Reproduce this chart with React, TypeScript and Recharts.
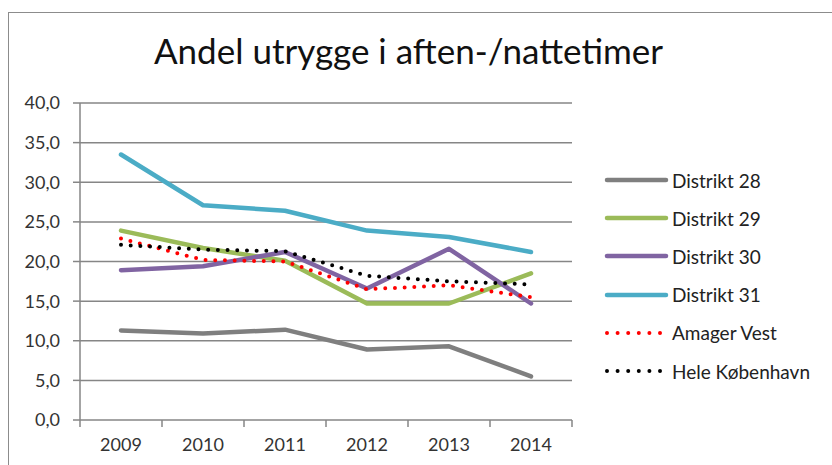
import { LineChart, Line, XAxis, YAxis, CartesianGrid } from 'recharts'

const years = ['2009', '2010', '2011', '2012', '2013', '2014']
const distrikt28 = [11.3, 10.9, 11.4, 8.9, 9.3, 5.5]
const distrikt29 = [23.9, 21.7, 20.1, 14.7, 14.7, 18.5]
const distrikt30 = [18.9, 19.4, 21.2, 16.6, 21.6, 14.7]
const distrikt31 = [33.5, 27.1, 26.4, 23.9, 23.1, 21.2]
const amagerVest = [22.9, 20.2, 20.0, 16.5, 17.0, 15.5]
const heleKbh = [22.1, 21.5, 21.3, 18.2, 17.5, 17.1]
const yTicks = [0, 5, 10, 15, 20, 25, 30, 35, 40]

const series = [
  { key: 'd28', name: 'Distrikt 28', values: distrikt28, color: '#7f7f7f', dotted: false },
  { key: 'd29', name: 'Distrikt 29', values: distrikt29, color: '#9bbb59', dotted: false },
  { key: 'd30', name: 'Distrikt 30', values: distrikt30, color: '#8064a2', dotted: false },
  { key: 'd31', name: 'Distrikt 31', values: distrikt31, color: '#4bacc6', dotted: false },
  { key: 'av', name: 'Amager Vest', values: amagerVest, color: '#ff0000', dotted: true },
  { key: 'kbh', name: 'Hele København', values: heleKbh, color: '#000000', dotted: true },
]

const data = years.map((year, i) => {
  const row: Record<string, string | number> = { year }
  series.forEach((s) => {
    row[s.key] = s.values[i]
  })
  return row
})

const font = 'Lato, "Open Sans", sans-serif'
const axisColor = '#868686'
const halfBand = 41

// year label plus tick marks on the category boundaries (Excel style)
function YearTick(props: any) {
  const { x, y, payload, index, visibleTicksCount } = props
  const last = index === visibleTicksCount - 1
  return (
    <g>
      <line x1={x - halfBand} y1={y} x2={x - halfBand} y2={y + 7} stroke={axisColor} strokeWidth={1.5} />
      {last && <line x1={x + halfBand} y1={y} x2={x + halfBand} y2={y + 7} stroke={axisColor} strokeWidth={1.5} />}
      <text x={x} y={y + 18} dy="0.71em" textAnchor="middle" fontSize={18} fill="#333" fontFamily={font}>
        {payload.value}
      </text>
    </g>
  )
}

export default function App() {
  return (
    <div style={{ position: 'absolute', left: 0, top: 0, width: 832, height: 465, background: '#fff', overflow: 'hidden', fontFamily: font }}>
      {/* chart frame, only top and left edges visible */}
      <div style={{ position: 'absolute', left: 8, top: 12, width: 900, height: 600, borderTop: '1.5px solid #8c8c8c', borderLeft: '1.5px solid #8c8c8c' }} />
      <div style={{ position: 'absolute', left: 0, top: 29, width: 817, textAlign: 'center', fontSize: 35, color: '#111' }}>
        Andel utrygge i aften-/nattetimer
      </div>
      <div style={{ position: 'absolute', left: 0, top: 0 }}>
        <LineChart width={832} height={465} data={data} margin={{ top: 103, right: 260, bottom: 0, left: 0 }}>
          <CartesianGrid vertical={false} stroke={axisColor} strokeWidth={1.5} />
          <XAxis
            dataKey="year"
            height={45}
            padding={{ left: halfBand, right: halfBand }}
            axisLine={false}
            tickLine={false}
            tickSize={0}
            tickMargin={0}
            tick={<YearTick />}
            interval={0}
          />
          <YAxis
            width={80}
            domain={[0, 40]}
            ticks={yTicks}
            tickSize={7}
            tickMargin={13}
            stroke={axisColor}
            strokeWidth={1.5}
            tick={{ fontSize: 18, fill: '#333', fontFamily: font }}
            tickFormatter={(v: number) => v.toFixed(1).replace('.', ',')}
          />
          {series.map((s) => (
            <Line
              key={s.key}
              dataKey={s.key}
              name={s.name}
              stroke={s.color}
              strokeWidth={s.dotted ? 4 : 4.5}
              strokeDasharray={s.dotted ? '0 9.7' : undefined}
              strokeLinecap="round"
              strokeLinejoin="round"
              dot={false}
              activeDot={false}
              isAnimationActive={false}
            />
          ))}
        </LineChart>
      </div>
      <div style={{ position: 'absolute', left: 604, top: 161 }}>
        {series.map((s) => (
          <div key={s.key} style={{ display: 'flex', alignItems: 'center', height: 38.2 }}>
            <svg width={66} height={10}>
              <line
                x1={3}
                y1={5}
                x2={s.dotted ? 59 : 62}
                y2={5}
                stroke={s.color}
                strokeWidth={s.dotted ? 4 : 4.5}
                strokeLinecap="round"
                strokeDasharray={s.dotted ? '0 10.6' : undefined}
              />
            </svg>
            <span style={{ fontSize: 19, color: '#222', marginLeft: 2 }}>{s.name}</span>
          </div>
        ))}
      </div>
    </div>
  )
}
